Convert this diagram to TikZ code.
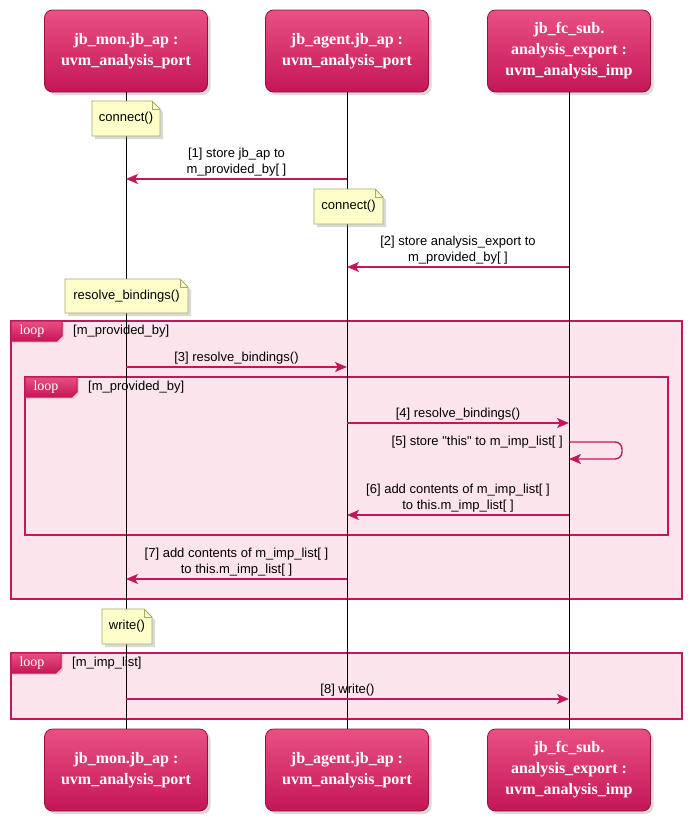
\documentclass[tikz,border=0pt]{standalone}
\usepackage{fontspec}
\setmainfont{Liberation Serif}
\setsansfont{Liberation Sans}[Ligatures=TeXOff]
\usetikzlibrary{arrows.meta,shadows,positioning}

\definecolor{rosefill}{RGB}{252,228,236}
\definecolor{roseline}{RGB}{194,24,91}
\definecolor{rosetop}{RGB}{234,80,132}
\definecolor{rosebot}{RGB}{196,22,88}
\definecolor{notefill}{RGB}{254,254,202}
\definecolor{noteline}{RGB}{168,168,104}

\tikzset{
	participant/.style={rectangle, rounded corners=8pt, draw=rosebot!75!black, line width=0.8pt,
		top color=rosetop, bottom color=rosebot, minimum width=163pt, minimum height=82pt,
		text=white, align=center, font=\fontsize{16}{21}\selectfont\bfseries,
		drop shadow={opacity=0.3, shadow xshift=3pt, shadow yshift=-3pt}},
	lifeline/.style={draw=black, line width=0.8pt},
	msg/.style={draw=roseline, line width=1.4pt, -{Stealth[length=12pt, width=10pt, inset=3pt]}},
	msglabel/.style={font=\sffamily\fontsize{13}{16.5}\selectfont, align=center, inner sep=2pt},
	loopframe/.style={fill=rosefill, draw=roseline, line width=1.4pt},
	looptab/.style={top color=rosetop, bottom color=rosebot, draw=roseline, line width=1pt,
		drop shadow={opacity=0.25, shadow xshift=2pt, shadow yshift=-2pt}},
	looptext/.style={text=white, font=\fontsize{14}{16}\selectfont, inner sep=0pt},
	guardtext/.style={font=\sffamily\fontsize{13}{16}\selectfont, anchor=west, inner sep=2pt},
	notedraw/.style={fill=notefill, draw=noteline, line width=0.8pt,
		drop shadow={opacity=0.3, shadow xshift=3pt, shadow yshift=-3pt}},
	notetext/.style={font=\sffamily\fontsize{13}{16}\selectfont, inner sep=0pt},
}

% note with folded corner: [name](x,y)(w:h){text}
\def\notebox[#1](#2,#3)(#4:#5)#6{%
	\draw[notedraw] (#2,#3) -- (#2+#4-8,#3) -- (#2+#4,#3+8) -- (#2+#4,#3+#5) -- (#2,#3+#5) -- cycle;
	\draw[draw=noteline, line width=0.8pt] (#2+#4-8,#3) -- (#2+#4-8,#3+8) -- (#2+#4,#3+8);
	\node[notetext] (#1) at (#2+#4/2,#3+#5/2) {#6};}

% loop frame: [name](x1,y1)(x2,y2){tab width}{guard}
\def\loopbox[#1](#2,#3)(#4,#5)#6#7{%
	\draw[loopframe] (#2,#3) rectangle (#4,#5);
	\draw[looptab] (#2,#3) -- (#2+#6,#3) -- (#2+#6,#3+15) -- (#2+#6-5,#3+20) -- (#2,#3+20) -- cycle;
	\node[looptext] (#1tab) at (#2+21,#3+10) {loop};
	\node[guardtext] (#1guard) at (#2+#6+9,#3+10) {[#7]};}

\begin{document}
\begin{tikzpicture}[x=1pt, y=-1pt]
	%%%%% START %%%%%
	\useasboundingbox (0,0) rectangle (692,819);
	
	\node[participant] (monTop) at (126,51) {jb\_mon.jb\_ap :\\uvm\_analysis\_port};
	\node[participant] (agentTop) at (347,51) {jb\_agent.jb\_ap :\\uvm\_analysis\_port};
	\node[participant] (subTop) at (569,51) {jb\_fc\_sub.\\analysis\_export :\\uvm\_analysis\_imp};
	
	\node[participant] (monBot) at (126,770) {jb\_mon.jb\_ap :\\uvm\_analysis\_port};
	\node[participant] (agentBot) at (347,770) {jb\_agent.jb\_ap :\\uvm\_analysis\_port};
	\node[participant] (subBot) at (569,770) {jb\_fc\_sub.\\analysis\_export :\\uvm\_analysis\_imp};
	
	\loopbox[outer](11,321)(682,599){51}{m\_provided\_by}
	\loopbox[inner](25,377)(668,535){52}{m\_provided\_by}
	\loopbox[write](11,653)(682,719){50}{m\_imp\_list}
	
	\draw[lifeline] (monTop) -- (monBot);
	\draw[lifeline] (agentTop) -- (agentBot);
	\draw[lifeline] (subTop) -- (subBot);
	
	\notebox[noteA](92,101)(68:35){connect()}
	\notebox[noteB](314,189)(69:35){connect()}
	\notebox[noteC](65,279)(123:34){resolve\_bindings()}
	\notebox[noteD](102,609)(50:35){write()}
	
	\coordinate (r1) at (0,179);
	\coordinate (r2) at (0,267);
	\coordinate (r3) at (0,367);
	\coordinate (r4) at (0,423);
	\coordinate (r5) at (0,442);
	\coordinate (r5b) at (0,459);
	\coordinate (r6) at (0,515);
	\coordinate (r7) at (0,579);
	\coordinate (r8) at (0,699);
	
	\draw[msg] (agentTop |- r1) -- (monTop |- r1) node[msglabel, midway, above] (m1) {[1] store jb\_ap to\\m\_provided\_by[ ]};
	\draw[msg] (subTop |- r2) -- (agentTop |- r2) node[msglabel, midway, above] (m2) {[2] store analysis\_export to\\m\_provided\_by[ ]};
	\draw[msg] (monTop |- r3) -- (agentTop |- r3) node[msglabel, midway, above] (m3) {[3] resolve\_bindings()};
	\draw[msg] (agentTop |- r4) -- (subTop |- r4) node[msglabel, midway, above] (m4) {[4] resolve\_bindings()};
	
	\draw[msg, rounded corners=7pt] (subTop |- r5) -- ++(53,0) |- (subTop |- r5b);
	\node[msglabel, anchor=east] (m5) at ([xshift=-4pt]subTop |- r5) {[5] store "this" to m\_imp\_list[ ]};
	
	\draw[msg] (subTop |- r6) -- (agentTop |- r6) node[msglabel, midway, above] (m6) {[6] add contents of m\_imp\_list[ ]\\to this.m\_imp\_list[ ]};
	\draw[msg] (agentTop |- r7) -- (monTop |- r7) node[msglabel, midway, above] (m7) {[7] add contents of m\_imp\_list[ ]\\to this.m\_imp\_list[ ]};
	\draw[msg] (monTop |- r8) -- (subTop |- r8) node[msglabel, midway, above] (m8) {[8] write()};
	
	%%%%% END %%%%%
\end{tikzpicture}
\end{document}
